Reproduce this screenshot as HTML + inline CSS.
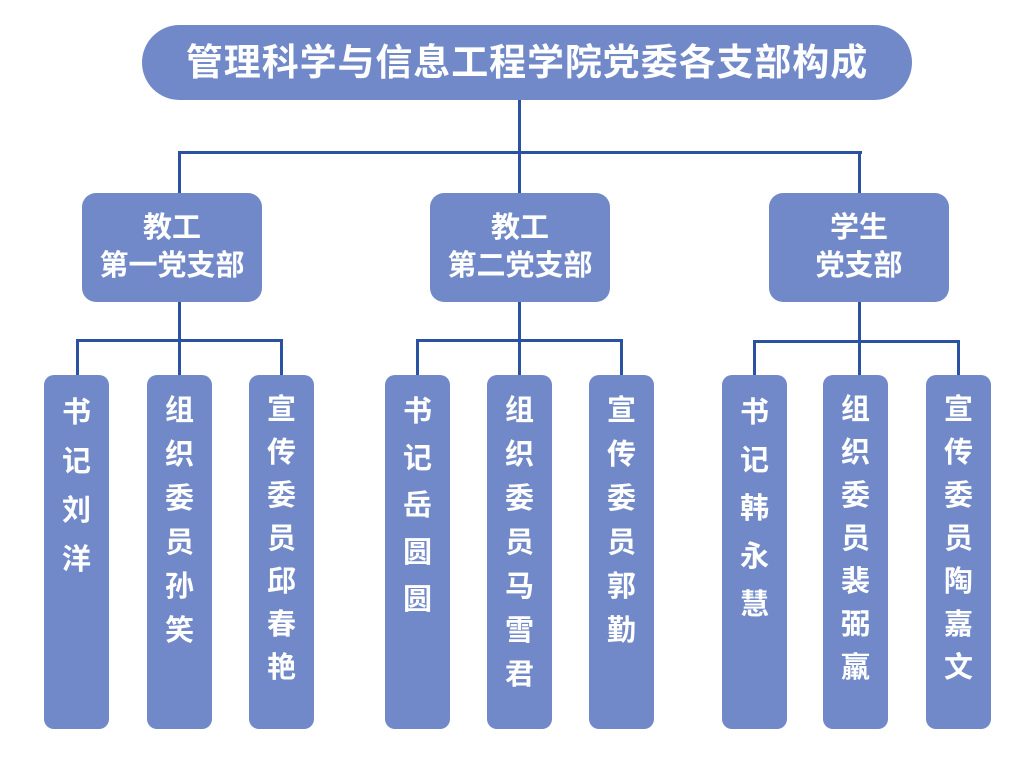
<!DOCTYPE html>
<html><head><meta charset="utf-8"><style>
body{margin:0;width:1024px;height:760px;background:#fff;position:relative;overflow:hidden;font-family:"Liberation Sans","Noto Sans CJK SC",sans-serif;font-weight:bold;color:#fff}
.b{position:absolute;background:#7189c8;text-align:center}
.t{left:142px;top:25px;width:770px;height:75px;border-radius:38px;font-size:37px;line-height:75px;letter-spacing:0.9px}
.m{top:193px;width:180px;height:109px;border-radius:14px;font-size:29px;line-height:38px;padding-top:16px;box-sizing:border-box}
.l{top:375px;width:65px;height:354px;border-radius:10px;font-size:29px;padding-top:14px;box-sizing:border-box}
.h{position:absolute;background:#2a52a0}
</style></head><body>
<div class="h" style="left:518px;top:100px;width:3px;height:54px"></div>
<div class="h" style="left:178px;top:151px;width:684px;height:3px"></div>
<div class="h" style="left:178px;top:151px;width:3px;height:42px"></div>
<div class="h" style="left:518px;top:151px;width:3px;height:42px"></div>
<div class="h" style="left:858px;top:151px;width:3px;height:42px"></div>

<div class="b t">管理科学与信息工程学院党委各支部构成</div>
<div class="b m" style="left:82px">教工<br>第一党支部</div>
<div class="b m" style="left:430px">教工<br>第二党支部</div>
<div class="b m" style="left:769px">学生<br>党支部</div>

<div class="h" style="left:178px;top:302px;width:3px;height:73px"></div>
<div class="h" style="left:76px;top:339px;width:207px;height:3px"></div>
<div class="h" style="left:76px;top:339px;width:3px;height:36px"></div>
<div class="h" style="left:280px;top:339px;width:3px;height:36px"></div>

<div class="h" style="left:518px;top:302px;width:3px;height:73px"></div>
<div class="h" style="left:416px;top:339px;width:207px;height:3px"></div>
<div class="h" style="left:416px;top:339px;width:3px;height:36px"></div>
<div class="h" style="left:620px;top:339px;width:3px;height:36px"></div>

<div class="h" style="left:858px;top:302px;width:3px;height:73px"></div>
<div class="h" style="left:753px;top:340px;width:207px;height:3px"></div>
<div class="h" style="left:753px;top:340px;width:3px;height:35px"></div>
<div class="h" style="left:957px;top:340px;width:3px;height:35px"></div>

<div class="b l" style="left:44px;line-height:49px">书<br>记<br>刘<br>洋</div>
<div class="b l" style="left:147px;line-height:44px">组<br>织<br>委<br>员<br>孙<br>笑</div>
<div class="b l" style="left:249px;line-height:43px">宣<br>传<br>委<br>员<br>邱<br>春<br>艳</div>

<div class="b l" style="left:385px;line-height:47px">书<br>记<br>岳<br>圆<br>圆</div>
<div class="b l" style="left:487px;line-height:44px">组<br>织<br>委<br>员<br>马<br>雪<br>君</div>
<div class="b l" style="left:589px;line-height:44px">宣<br>传<br>委<br>员<br>郭<br>勤</div>

<div class="b l" style="left:722px;line-height:48px">书<br>记<br>韩<br>永<br>慧</div>
<div class="b l" style="left:823px;line-height:43px">组<br>织<br>委<br>员<br>裴<br>弼<br>羸</div>
<div class="b l" style="left:926px;line-height:43px">宣<br>传<br>委<br>员<br>陶<br>嘉<br>文</div>
</body></html>
